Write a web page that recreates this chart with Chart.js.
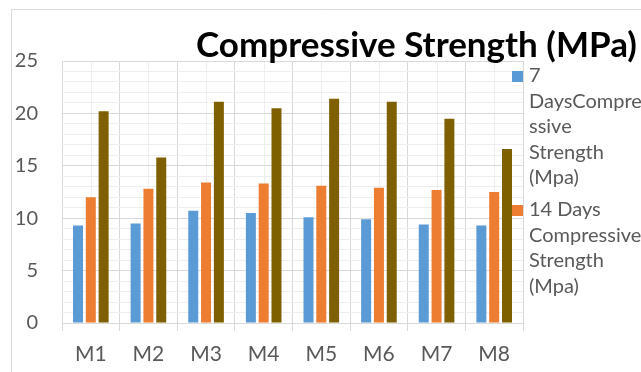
<!DOCTYPE html>
<html>
<head>
<meta charset="utf-8">
<script src="https://cdn.jsdelivr.net/npm/chart.js@4.4.1/dist/chart.umd.min.js"></script>
<style>
  html, body { margin: 0; padding: 0; background: #ffffff; }
  #wrap { width: 641px; height: 372px; position: relative; }
</style>
</head>
<body>
<div id="wrap"><canvas id="chart"></canvas></div>
<script>
// Mix designations along the x axis
const categories = ['M1', 'M2', 'M3', 'M4', 'M5', 'M6', 'M7', 'M8'];

// Compressive strength (MPa) at each curing age
const strength7 = [9.3, 9.5, 10.7, 10.5, 10.1, 9.9, 9.4, 9.3];
const strength14 = [12.0, 12.8, 13.4, 13.3, 13.1, 12.9, 12.7, 12.5];
const strength28 = [20.2, 15.8, 21.1, 20.5, 21.4, 21.1, 19.5, 16.6];

const seriesLabels = [
  '7 DaysCompressive Strength (Mpa)',
  '14 Days Compressive Strength (Mpa)',
  '28 Days Compressive Strength (Mpa)'
];
// Wrapped legend text, one array of lines per series
const legendLines = [
  ['7', 'DaysCompre', 'ssive', 'Strength', '(Mpa)'],
  ['14 Days', 'Compressive', 'Strength', '(Mpa)'],
  ['28 Days', 'Compressive', 'Strength', '(Mpa)']
];
const seriesColors = ['#5B9BD5', '#ED7D31', '#7F6000'];

// Value axis: labelled every 5, minor grid every 1
const yMin = 0;
const yMax = 25;
const yMajorStep = 5;
const yMinorStep = 1;

const titleText = 'Compressive Strength (MPa)';

const FONT = 'Lato, "Open Sans", "DejaVu Sans", sans-serif';
const TEXT_GRAY = '#595959';
const GRID_MAJOR = '#d9d9d9';
const GRID_MINOR = '#eeeeee';

const pad = { left: 0, top: 61, right: 118, bottom: 0 };

const decorations = {
  id: 'decorations',
  beforeDraw(chart) {
    const ctx = chart.ctx;
    const area = chart.chartArea;
    ctx.save();
    ctx.fillStyle = '#ffffff';
    ctx.fillRect(0, 0, chart.width, chart.height);
    // outer chart frame (top and left edges)
    ctx.strokeStyle = GRID_MAJOR;
    ctx.lineWidth = 1;
    ctx.beginPath();
    ctx.moveTo(11.5, chart.height);
    ctx.lineTo(11.5, 9.5);
    ctx.lineTo(chart.width, 9.5);
    ctx.stroke();
    // minor vertical gridlines through category centres
    const xs = chart.scales.x;
    ctx.strokeStyle = GRID_MINOR;
    ctx.beginPath();
    categories.forEach((c, i) => {
      const px = Math.round(xs.getPixelForValue(i)) + 0.5;
      ctx.moveTo(px, area.top);
      ctx.lineTo(px, area.bottom);
    });
    ctx.stroke();
    ctx.restore();
  },
  afterDraw(chart) {
    const ctx = chart.ctx;
    ctx.save();
    // title
    ctx.fillStyle = '#000000';
    ctx.font = 'bold 35px ' + FONT;
    ctx.textAlign = 'center';
    ctx.textBaseline = 'alphabetic';
    ctx.fillText(titleText, 416.5, 57);
    // legend, entries that fit inside the legend box only
    ctx.font = '20px ' + FONT;
    ctx.textAlign = 'left';
    const lineH = 25.6;
    const entryGap = 6;
    const boxBottom = 300;
    let baseline = 82;
    chart.data.datasets.forEach((ds, i) => {
      const lines = legendLines[i];
      const lastBaseline = baseline + lineH * (lines.length - 1);
      if (lastBaseline > boxBottom) return;
      ctx.fillStyle = ds.backgroundColor;
      ctx.fillRect(512, baseline - 11, 11, 11);
      ctx.fillStyle = TEXT_GRAY;
      lines.forEach((t, k) => ctx.fillText(t, 529, baseline + k * lineH));
      baseline = lastBaseline + lineH + entryGap;
    });
    ctx.restore();
  }
};

new Chart(document.getElementById('chart'), {
  type: 'bar',
  data: {
    labels: categories,
    datasets: [strength7, strength14, strength28].map((vals, i) => ({
      label: seriesLabels[i],
      data: vals,
      backgroundColor: seriesColors[i],
      borderWidth: 0,
      categoryPercentage: 0.667,
      barPercentage: 0.78
    }))
  },
  options: {
    responsive: true,
    maintainAspectRatio: false,
    animation: false,
    devicePixelRatio: 1,
    layout: { padding: pad },
    plugins: {
      legend: { display: false },
      title: { display: false },
      tooltip: { enabled: false }
    },
    scales: {
      x: {
        afterFit(s) { s.height = 372 - 323 - pad.bottom; },
        border: { display: false },
        grid: { offset: true, color: GRID_MAJOR, tickLength: 8, drawTicks: true },
        ticks: { color: TEXT_GRAY, font: { family: FONT, size: 21 }, padding: 11 }
      },
      y: {
        min: yMin,
        max: yMax,
        afterFit(s) { s.width = 62 - pad.left; },
        border: { display: false },
        grid: {
          drawTicks: false,
          color: c => (c.tick.value % yMajorStep === 0 ? GRID_MAJOR : GRID_MINOR)
        },
        ticks: {
          stepSize: yMinorStep,
          autoSkip: false,
          padding: 24,
          color: TEXT_GRAY,
          font: { family: FONT, size: 20 },
          callback: v => (v % yMajorStep === 0 ? v : '')
        }
      }
    }
  },
  plugins: [decorations]
});
</script>
</body>
</html>
